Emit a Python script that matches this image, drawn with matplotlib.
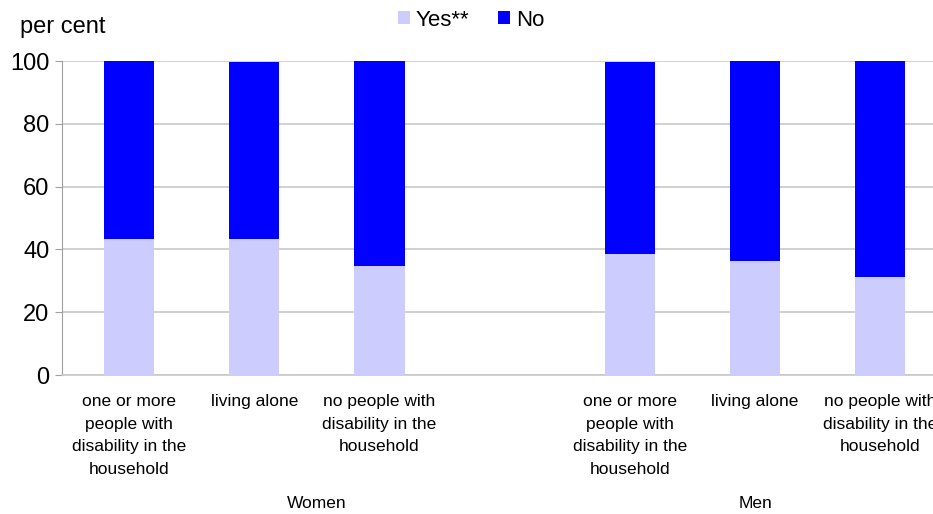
import numpy as np
import matplotlib
matplotlib.use("Agg")
import matplotlib.pyplot as plt
from matplotlib.transforms import blended_transform_factory

plt.rcParams['font.family'] = ['Liberation Sans', 'DejaVu Sans']

categories = ["one or more\npeople with\ndisability in the\nhousehold",
              "living alone",
              "no people with\ndisability in the\nhousehold",
              "",
              "one or more\npeople with\ndisability in the\nhousehold",
              "living alone",
              "no people with\ndisability in the\nhousehold"]
yes_vals = [43.3, 43.3, 34.7, np.nan, 38.5, 36.3, 31.2]
no_vals = [56.7, 56.4, 65.3, np.nan, 61.2, 63.7, 68.8]
groups = ["Women", "Men"]
group_pos = [1.5, 5.0]
yticks = [0, 20, 40, 60, 80, 100]

fig = plt.figure(figsize=(9.33, 5.14), dpi=100)
ax = fig.add_axes([62/933, 139/514, 1 - 62/933, 314/514])

x = np.arange(len(categories))
yes = np.array(yes_vals)
no = np.array(no_vals)
ax.bar(x, yes, width=0.4, color='#CCCCFF', label='Yes**', zorder=3)
ax.bar(x, no, width=0.4, bottom=yes, color='#0000FF', label='No', zorder=3)

ax.set_xlim(-0.535, 6.42)
ax.set_ylim(0, 100)
ax.set_yticks(yticks)
ax.set_yticklabels([str(v) for v in yticks], fontsize=17)
ax.yaxis.grid(True, color='#C8C8C8', linewidth=1.2, zorder=0)
ax.set_axisbelow(True)
ax.set_xticks(x)
ax.set_xticklabels(categories, fontsize=12.5, linespacing=1.62, va='top')
ax.tick_params(axis='x', length=0, pad=14)
ax.tick_params(axis='y', length=5, color='#A0A0A0', pad=4)
for s in ['top', 'right']:
    ax.spines[s].set_visible(False)
ax.spines['left'].set_color('#A0A0A0')
ax.spines['bottom'].set_color('#C8C8C8')
ax.spines['bottom'].set_linewidth(1.2)

trans = blended_transform_factory(ax.transData, fig.transFigure)
for g, p in zip(groups, group_pos):
    ax.text(p, 1 - 503/514, g, transform=trans, ha='center', va='center', fontsize=12.5)

fig.text(20/933, 1 - 27/514, "per cent", fontsize=17, ha='left', va='center')

leg = fig.legend(loc='center', bbox_to_anchor=(471/933, 1 - 20/514), ncol=2, frameon=False,
                 fontsize=16, handlelength=0.55, handleheight=0.55, handletextpad=0.25,
                 columnspacing=1.3)

fig.savefig("out.png", dpi=100)
